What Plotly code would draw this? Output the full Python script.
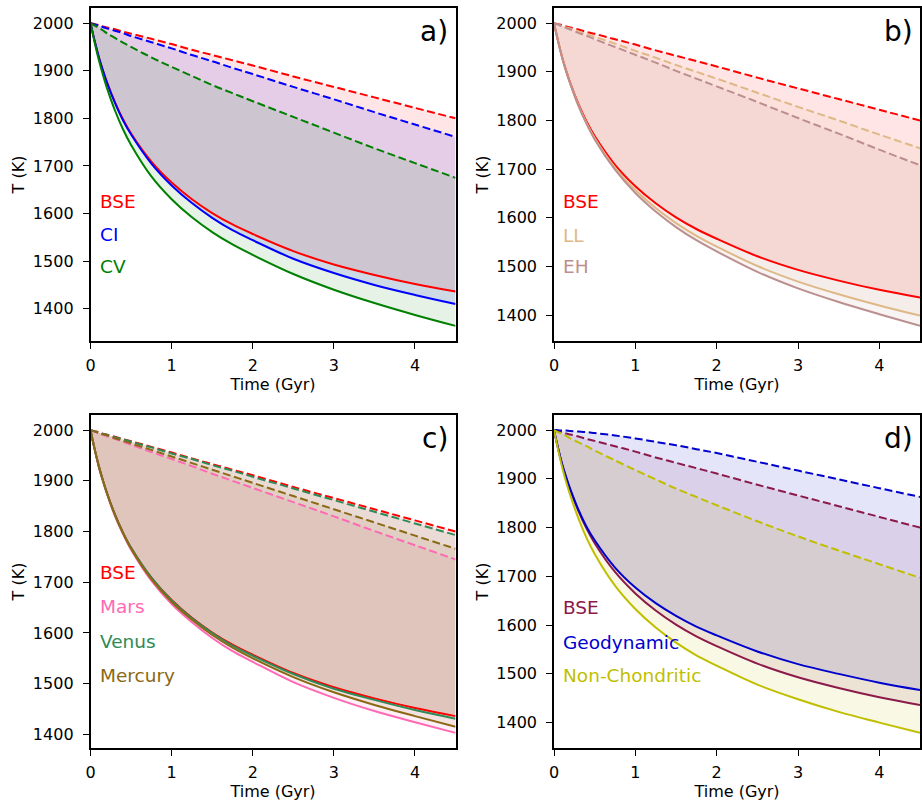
import plotly.graph_objects as go

# Time grid (Gyr) at which the temperature curves are sampled
t = [0, 0.05, 0.1, 0.15, 0.2, 0.3, 0.4, 0.5, 0.75, 1, 1.25, 1.5, 1.75, 2, 2.5, 3, 3.5, 4, 4.5]

# Lower (solid) and upper (dashed) temperature bounds, K
bse_lo = [2000, 1963, 1930, 1902, 1877, 1834, 1798, 1768, 1709, 1665, 1630, 1601, 1577, 1557, 1521, 1493, 1471, 1452, 1436]
bse_hi = [2000, 1998, 1996, 1993, 1991, 1987, 1982, 1978, 1967, 1956, 1944, 1933, 1922, 1911, 1888, 1866, 1844, 1822, 1800]
ci_lo = [2000, 1963, 1930, 1902, 1876, 1833, 1796, 1766, 1705, 1659, 1622, 1591, 1565, 1544, 1505, 1475, 1450, 1429, 1410]
ci_hi = [2000, 1997, 1995, 1992, 1989, 1984, 1979, 1973, 1960, 1947, 1933, 1920, 1906, 1893, 1866, 1840, 1813, 1787, 1761]
cv_lo = [2000, 1960, 1924, 1893, 1865, 1817, 1777, 1744, 1678, 1630, 1592, 1561, 1535, 1513, 1473, 1440, 1412, 1387, 1364]
cv_hi = [2000, 1995, 1990, 1985, 1979, 1969, 1959, 1950, 1928, 1908, 1889, 1870, 1853, 1836, 1803, 1770, 1737, 1706, 1675]
ll_lo = [2000, 1963, 1930, 1901, 1876, 1832, 1795, 1764, 1703, 1657, 1620, 1589, 1563, 1541, 1501, 1469, 1443, 1420, 1399]
ll_hi = [2000, 1997, 1994, 1991, 1989, 1983, 1978, 1972, 1958, 1943, 1929, 1914, 1900, 1886, 1857, 1828, 1800, 1771, 1743]
eh_lo = [2000, 1963, 1929, 1900, 1875, 1830, 1793, 1761, 1699, 1651, 1613, 1581, 1554, 1531, 1489, 1455, 1427, 1402, 1378]
eh_hi = [2000, 1997, 1993, 1990, 1987, 1980, 1974, 1967, 1951, 1935, 1919, 1902, 1886, 1870, 1838, 1805, 1773, 1740, 1708]
mars_lo = [2000, 1963, 1929, 1901, 1875, 1831, 1795, 1764, 1703, 1657, 1621, 1590, 1564, 1543, 1503, 1472, 1446, 1424, 1403]
mars_hi = [2000, 1997, 1994, 1991, 1988, 1983, 1977, 1971, 1957, 1943, 1929, 1914, 1900, 1886, 1858, 1830, 1801, 1773, 1745]
venus_lo = [2000, 1963, 1930, 1902, 1877, 1834, 1798, 1768, 1709, 1664, 1629, 1600, 1575, 1555, 1519, 1490, 1468, 1448, 1431]
venus_hi = [2000, 1998, 1995, 1993, 1991, 1986, 1982, 1977, 1966, 1954, 1943, 1931, 1920, 1908, 1885, 1862, 1839, 1816, 1793]
merc_lo = [2000, 1963, 1930, 1902, 1877, 1833, 1797, 1766, 1706, 1661, 1626, 1596, 1571, 1550, 1513, 1483, 1458, 1436, 1415]
merc_hi = [2000, 1997, 1995, 1992, 1990, 1984, 1979, 1974, 1961, 1948, 1935, 1922, 1909, 1896, 1870, 1844, 1818, 1792, 1766]
geo_lo = [2000, 1963, 1930, 1903, 1879, 1837, 1802, 1774, 1718, 1677, 1645, 1619, 1597, 1579, 1546, 1520, 1500, 1482, 1467]
geo_hi = [2000, 2000, 1999, 1999, 1998, 1997, 1996, 1994, 1989, 1983, 1976, 1969, 1961, 1953, 1935, 1917, 1899, 1881, 1863]
nc_lo = [2000, 1960, 1924, 1893, 1866, 1819, 1779, 1746, 1681, 1633, 1595, 1564, 1538, 1517, 1478, 1448, 1422, 1400, 1379]
nc_hi = [2000, 1996, 1992, 1988, 1983, 1975, 1967, 1958, 1938, 1918, 1899, 1880, 1863, 1846, 1813, 1782, 1753, 1725, 1697]

x_ticks = [0, 1, 2, 3, 4]
y_ticks = [1400, 1500, 1600, 1700, 1800, 1900, 2000]

panels = [
    dict(tag="a)", series=[("BSE", bse_lo, bse_hi, (255, 0, 0)),
                           ("CI", ci_lo, ci_hi, (0, 0, 255)),
                           ("CV", cv_lo, cv_hi, (0, 128, 0))],
         label_y=[1626, 1556, 1488],
         xdom=[86 / 922, 453 / 922], ydom=[1 - 341 / 801, 1 - 8 / 801]),
    dict(tag="b)", series=[("BSE", bse_lo, bse_hi, (255, 0, 0)),
                           ("LL", ll_lo, ll_hi, (222, 184, 135)),
                           ("EH", eh_lo, eh_hi, (188, 143, 143))],
         label_y=[1634, 1564, 1499],
         xdom=[552 / 922, 920 / 922], ydom=[1 - 341 / 801, 1 - 8 / 801]),
    dict(tag="c)", series=[("BSE", bse_lo, bse_hi, (255, 0, 0)),
                           ("Mars", mars_lo, mars_hi, (255, 105, 180)),
                           ("Venus", venus_lo, venus_hi, (46, 139, 87)),
                           ("Mercury", merc_lo, merc_hi, (139, 105, 20))],
         label_y=[1719, 1652, 1583, 1516],
         xdom=[86 / 922, 453 / 922], ydom=[1 - 748 / 801, 1 - 415 / 801]),
    dict(tag="d)", series=[("BSE", bse_lo, bse_hi, (139, 26, 74)),
                           ("Geodynamic", geo_lo, geo_hi, (0, 0, 205)),
                           ("Non-Chondritic", nc_lo, nc_hi, (191, 191, 0))],
         label_y=[1637, 1565, 1497],
         xdom=[552 / 922, 920 / 922], ydom=[1 - 748 / 801, 1 - 415 / 801]),
]

FONT = "DejaVu Sans"
DASH = "8px,3.6px"

fig = go.Figure()
annotations = []
layout_axes = {}

for i, p in enumerate(panels):
    k = "" if i == 0 else str(i + 1)
    xa, ya = "x" + k, "y" + k

    # shaded bands between the solid and dashed bound of each series
    for name, lo, hi, c in p["series"]:
        rgba = "rgba(%d,%d,%d,0.1)" % c
        fig.add_trace(go.Scatter(x=t, y=lo, mode="lines", line=dict(width=0, shape="spline"),
                                 xaxis=xa, yaxis=ya, showlegend=False, hoverinfo="skip"))
        fig.add_trace(go.Scatter(x=t, y=hi, mode="lines", line=dict(width=0, shape="spline"),
                                 fill="tonexty", fillcolor=rgba,
                                 xaxis=xa, yaxis=ya, showlegend=False, hoverinfo="skip"))

    # bound curves on top of the bands
    for name, lo, hi, c in p["series"]:
        col = "rgb(%d,%d,%d)" % c
        fig.add_trace(go.Scatter(x=t, y=hi, mode="lines", name=name + " upper",
                                 line=dict(color=col, width=2, dash=DASH, shape="spline"),
                                 xaxis=xa, yaxis=ya, showlegend=False))
        fig.add_trace(go.Scatter(x=t, y=lo, mode="lines", name=name + " lower",
                                 line=dict(color=col, width=2, shape="spline"),
                                 xaxis=xa, yaxis=ya, showlegend=False))

    # text labels naming each series
    for (name, lo, hi, c), ly in zip(p["series"], p["label_y"]):
        annotations.append(dict(x=0.09, y=ly, xref=xa, yref=ya, text=name, showarrow=False,
                                xanchor="left", yanchor="middle",
                                font=dict(family=FONT, size=18.5, color="rgb(%d,%d,%d)" % c)))

    # panel tag in the upper right corner
    annotations.append(dict(x=0.985, y=0.985, xref=xa + " domain", yref=ya + " domain",
                            text=p["tag"], showarrow=False, xanchor="right", yanchor="top",
                            font=dict(family=FONT, size=28, color="black")))

    # autoscaled temperature range with 5% padding
    vals = [v for s in p["series"] for v in s[1] + s[2]]
    lo_v, hi_v = min(vals), max(vals)
    pad = 0.05 * (hi_v - lo_v)

    axis_common = dict(showline=True, mirror=True, linecolor="black", linewidth=1.5,
                       ticks="outside", ticklen=6, tickwidth=1.3, tickcolor="black",
                       showgrid=False, zeroline=False,
                       tickfont=dict(family=FONT, size=16, color="black"))
    layout_axes["xaxis" + k] = dict(axis_common, domain=p["xdom"], anchor=ya, range=[0, 4.5],
                                    tickvals=x_ticks, ticklabelstandoff=3,
                                    title=dict(text="Time (Gyr)", standoff=3,
                                               font=dict(family=FONT, size=16, color="black")))
    layout_axes["yaxis" + k] = dict(axis_common, domain=p["ydom"], anchor=xa,
                                    range=[lo_v - pad, hi_v + pad], tickvals=y_ticks,
                                    ticklabelstandoff=6,
                                    title=dict(text="T (K)", standoff=4,
                                               font=dict(family=FONT, size=16, color="black")))

fig.update_layout(
    width=922, height=801,
    margin=dict(l=0, r=0, t=0, b=0),
    paper_bgcolor="white", plot_bgcolor="white",
    showlegend=False,
    annotations=annotations,
    font=dict(family=FONT),
    **layout_axes,
)

fig.write_html("out.html")
